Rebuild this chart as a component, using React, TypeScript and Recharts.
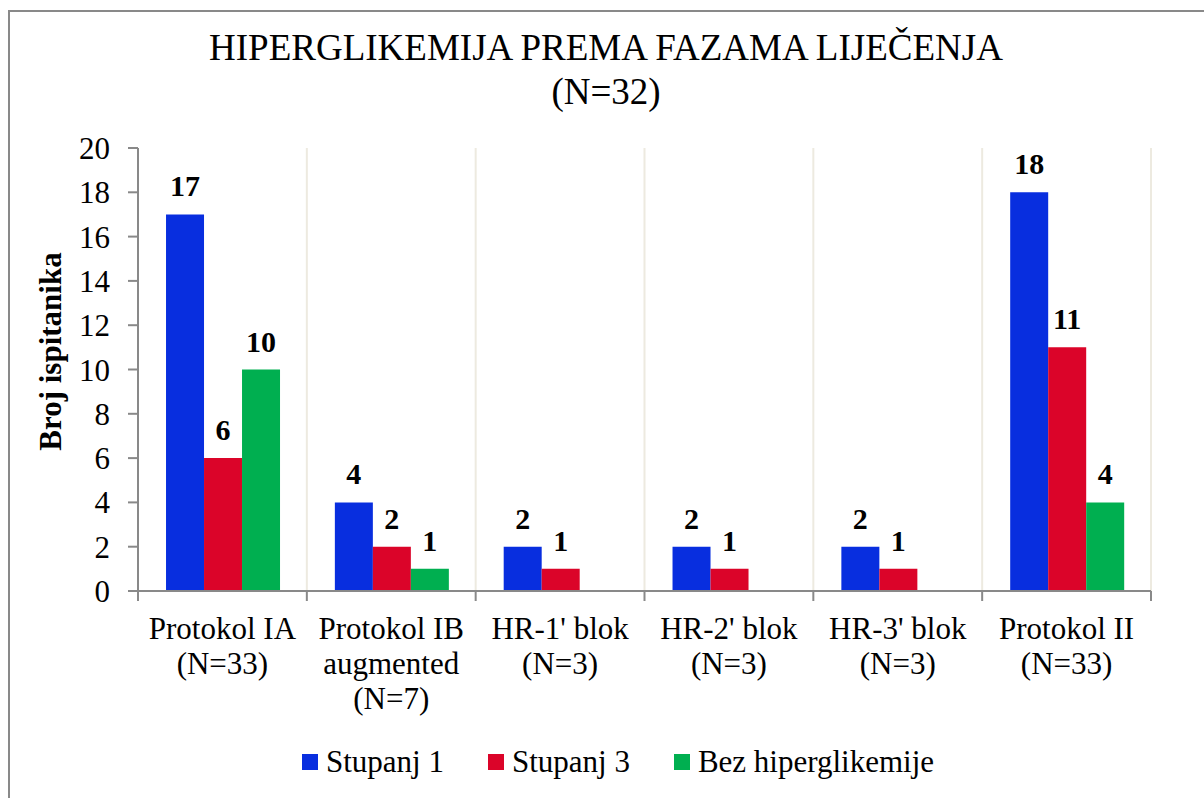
import { BarChart, Bar, XAxis, YAxis, CartesianGrid, Legend, LabelList } from "recharts";

const categories: string[][] = [
  ["Protokol IA", "(N=33)"],
  ["Protokol IB", "augmented", "(N=7)"],
  ["HR-1' blok", "(N=3)"],
  ["HR-2' blok", "(N=3)"],
  ["HR-3' blok", "(N=3)"],
  ["Protokol II", "(N=33)"],
];

const stupanj1 = [17, 4, 2, 2, 2, 18];
const stupanj3 = [6, 2, 1, 1, 1, 11];
const bezHiperglikemije: (number | null)[] = [10, 1, null, null, null, 4];

const yTicks = [0, 2, 4, 6, 8, 10, 12, 14, 16, 18, 20];

const series = [
  { key: "s1", name: "Stupanj 1", color: "#082EDF" },
  { key: "s3", name: "Stupanj 3", color: "#DB0429" },
  { key: "bez", name: "Bez hiperglikemije", color: "#00AF50" },
];

const data = categories.map((lines, i) => ({
  name: lines.join(" "),
  s1: stupanj1[i],
  s3: stupanj3[i],
  bez: bezHiperglikemije[i],
}));

const FONT = '"Liberation Serif", "Times New Roman", serif';
const AXIS = "#898989";

const CHART_W = 1204;
const CHART_H = 798;
const MARGIN = { top: 148, right: 53, left: 0, bottom: 47 };
const Y_WIDTH = 138;
const PLOT_W = CHART_W - MARGIN.left - MARGIN.right - Y_WIDTH;

function CategoryTick(props: any) {
  const { x, y, index } = props;
  const half = props.payload?.offset || PLOT_W / categories.length / 2;
  const lines = categories[index] || [];
  const last = index === categories.length - 1;
  return (
    <g>
      <line x1={x - half} x2={x - half} y1={y} y2={y + 10} stroke={AXIS} strokeWidth={2} />
      {last && <line x1={x + half} x2={x + half} y1={y} y2={y + 10} stroke={AXIS} strokeWidth={2} />}
      <text x={x} y={y} textAnchor="middle" fontFamily={FONT} fontSize={31} fill="#000">
        {lines.map((l, i) => (
          <tspan key={i} x={x} dy={i === 0 ? 48 : 35}>
            {l}
          </tspan>
        ))}
      </text>
    </g>
  );
}

function YLabel(props: any) {
  const vb = props.viewBox || { x: 0, y: 0, width: 0, height: 0 };
  const cx = vb.x + 50;
  const cy = vb.y + vb.height / 2 - 18;
  return (
    <text
      x={cx}
      y={cy}
      transform={`rotate(-90, ${cx}, ${cy})`}
      textAnchor="middle"
      dominantBaseline="central"
      fontFamily={FONT}
      fontSize={31}
      fontWeight="bold"
      fill="#000"
    >
      Broj ispitanika
    </text>
  );
}

function renderLegend() {
  return (
    <div
      style={{
        display: "flex",
        justifyContent: "center",
        alignItems: "center",
        height: 40,
        paddingLeft: 32,
        fontFamily: FONT,
        fontSize: 31,
        color: "#000",
      }}
    >
      {series.map((s, i) => (
        <div key={s.key} style={{ display: "flex", alignItems: "center", marginLeft: i === 0 ? 0 : 44 }}>
          <span style={{ width: 16, height: 16, background: s.color, marginRight: 8, display: "inline-block" }} />
          <span>{s.name}</span>
        </div>
      ))}
    </div>
  );
}

export default function App() {
  return (
    <div
      style={{
        position: "absolute",
        left: 0,
        top: 0,
        width: CHART_W,
        height: CHART_H,
        overflow: "hidden",
        background: "#fff",
      }}
    >
      <div
        style={{
          position: "absolute",
          left: 8,
          top: 10,
          width: 1400,
          height: 1000,
          border: `2px solid ${AXIS}`,
          boxSizing: "border-box",
        }}
      />
      <div
        style={{
          position: "absolute",
          left: 0,
          top: 26,
          width: 1212,
          textAlign: "center",
          fontFamily: FONT,
          fontSize: 37,
          lineHeight: "44px",
          color: "#000",
        }}
      >
        HIPERGLIKEMIJA PREMA FAZAMA LIJEČENJA
        <br />
        (N=32)
      </div>
      <div style={{ position: "absolute", left: 0, top: 0 }}>
        <BarChart
          width={CHART_W}
          height={CHART_H}
          data={data}
          margin={MARGIN}
          barCategoryGap="16.6%"
          barGap={0}
        >
          <CartesianGrid
            horizontal={false}
            stroke="#EDEAE0"
            strokeWidth={2}
            verticalCoordinatesGenerator={({ offset }: any) =>
              categories.map((_, i) => offset.left + (offset.width * (i + 1)) / categories.length)
            }
          />
          <XAxis
            dataKey="name"
            interval={0}
            height={120}
            tickLine={false}
            tickSize={0}
            tickMargin={0}
            axisLine={{ stroke: AXIS, strokeWidth: 2 }}
            tick={<CategoryTick />}
          />
          <YAxis
            width={Y_WIDTH}
            domain={[0, 20]}
            ticks={yTicks}
            interval={0}
            tickSize={10}
            tickMargin={18}
            axisLine={{ stroke: AXIS, strokeWidth: 2 }}
            tickLine={{ stroke: AXIS, strokeWidth: 2 }}
            tick={{ fill: "#000", fontSize: 31, fontFamily: FONT }}
            label={<YLabel />}
          />
          <Legend
            verticalAlign="bottom"
            content={renderLegend}
            wrapperStyle={{ top: 742, bottom: "auto", left: 0, width: CHART_W, height: 40 }}
          />
          {series.map((s) => (
            <Bar key={s.key} dataKey={s.key} name={s.name} fill={s.color} isAnimationActive={false}>
              <LabelList
                dataKey={s.key}
                position="top"
                offset={18}
                fill="#000"
                fontSize={30}
                fontWeight="bold"
                fontFamily={FONT}
              />
            </Bar>
          ))}
        </BarChart>
      </div>
    </div>
  );
}
